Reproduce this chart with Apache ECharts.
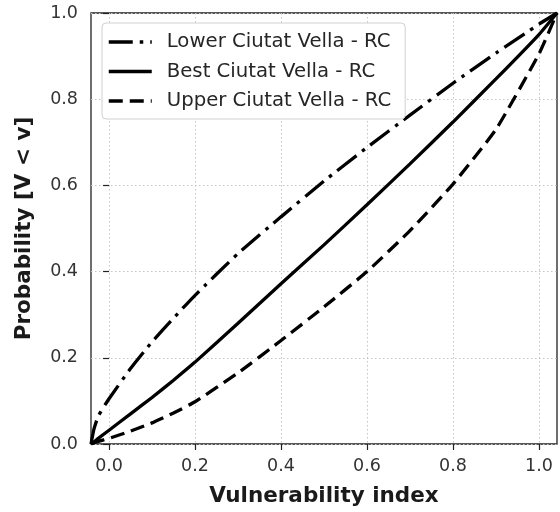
<!DOCTYPE html>
<html>
<head>
<meta charset="utf-8">
<script src="https://cdn.jsdelivr.net/npm/echarts@6/dist/echarts.min.js"></script>
<style>
  html, body { margin: 0; padding: 0; background: #fff; }
  #chart { width: 560px; height: 512px; }
</style>
</head>
<body>
<div id="chart"></div>
<script>
// vulnerability index samples shared by the three curves
const vIndex = [-0.042, -0.035, -0.025, 0, 0.05, 0.1, 0.15, 0.2, 0.3, 0.4, 0.5, 0.6, 0.7, 0.8, 0.9, 1.0, 1.042];
const lowerProb = [0, 0.035, 0.065, 0.105, 0.175, 0.237, 0.292, 0.345, 0.442, 0.527, 0.61, 0.688, 0.763, 0.837, 0.907, 0.974, 1.0];
const bestProb = [0, 0.005, 0.013, 0.032, 0.07, 0.108, 0.148, 0.19, 0.28, 0.372, 0.462, 0.555, 0.65, 0.747, 0.847, 0.95, 1.0];
const upperProb = [0, 0.003, 0.006, 0.013, 0.03, 0.049, 0.072, 0.098, 0.165, 0.24, 0.318, 0.40, 0.495, 0.603, 0.73, 0.905, 1.0];
const tickValues = [0, 0.2, 0.4, 0.6, 0.8, 1.0];
const seriesNames = ["Lower Ciutat Vella - RC", "Best Ciutat Vella - RC", "Upper Ciutat Vella - RC"];

const font = "DejaVu Sans";

function pairs(ys) {
  return vIndex.map((x, i) => [x, ys[i]]);
}

function makeSeries(name, ys, type) {
  return {
    name: name,
    type: "line",
    data: pairs(ys),
    symbol: "none",
    smooth: 0.15,
    lineStyle: { color: "#000", width: 3.3, type: type },
    itemStyle: { color: "#000" },
    z: 3
  };
}

const chart = echarts.init(document.getElementById("chart"));

chart.setOption({
  backgroundColor: "#fff",
  animation: false,
  grid: {
    left: 91, right: 3, top: 13, bottom: 66.5,
    show: true, borderColor: "#222", borderWidth: 1.3
  },
  legend: {
    orient: "vertical",
    left: 102, top: 23,
    padding: [9, 14, 8, 5],
    itemWidth: 43, itemHeight: 14, itemGap: 9.5,
    backgroundColor: "#fff",
    borderColor: "#d0d0d0", borderWidth: 1, borderRadius: 4,
    itemStyle: { opacity: 0 },
    lineStyle: { width: 3.5 },
    textStyle: { fontFamily: font, fontSize: 19.7, color: "#262626", lineHeight: 20, padding: [0, 0, 0, 10] },
    data: seriesNames
  },
  xAxis: {
    type: "value",
    min: -0.042, max: 1.042,
    name: "Vulnerability index",
    nameLocation: "middle",
    nameGap: 41,
    nameTextStyle: { fontFamily: font, fontSize: 21.5, fontWeight: "bold", color: "#1a1a1a" },
    axisLine: { show: false },
    axisTick: { show: true, length: 6, customValues: tickValues, lineStyle: { color: "#222", width: 1.2 } },
    axisLabel: {
      customValues: tickValues, margin: 13,
      fontFamily: font, fontSize: 17.5, color: "#333",
      formatter: v => v.toFixed(1)
    },
    splitLine: { show: true, lineStyle: { color: "#c4c4c4", width: 1, type: [1.5, 2.5] } }
  },
  yAxis: {
    type: "value",
    min: 0, max: 1, interval: 0.2,
    name: "Probability [V < v]",
    nameLocation: "middle",
    nameGap: 56,
    nameTextStyle: { fontFamily: font, fontSize: 21.5, fontWeight: "bold", color: "#1a1a1a" },
    axisLine: { show: false },
    axisTick: { show: true, length: 6, lineStyle: { color: "#222", width: 1.2 } },
    axisLabel: {
      margin: 13,
      fontFamily: font, fontSize: 17.5, color: "#333",
      formatter: v => v.toFixed(1)
    },
    splitLine: { show: true, lineStyle: { color: "#c4c4c4", width: 1, type: [1.5, 2.5] } }
  },
  series: [
    makeSeries(seriesNames[0], lowerProb, [24, 7, 3.5, 7]),
    makeSeries(seriesNames[1], bestProb, "solid"),
    makeSeries(seriesNames[2], upperProb, [14, 7])
  ]
});
</script>
</body>
</html>
